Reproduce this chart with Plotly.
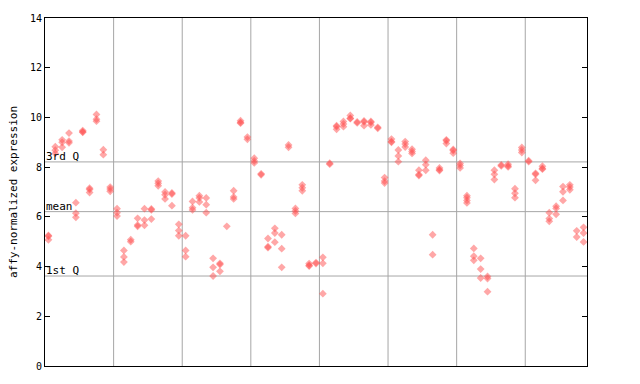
import plotly.graph_objects as go

# Expression values per sample (each inner list = replicate points of one sample)
group1 = [[5.25, 5.22, 5.08], [8.82, 8.68, 8.55], [9.1, 9.0, 8.8], [9.37, 9.05, 8.98],
          [6.57, 6.15, 5.98], [9.47, 9.42, 9.40], [7.15, 7.10, 6.98], [10.12, 9.93, 9.85],
          [8.7, 8.5], [7.2, 7.12, 7.03]]
group2 = [[6.33, 6.17, 6.03], [4.65, 4.39, 4.18], [5.08, 5.0], [5.94, 5.67, 5.62],
          [6.33, 5.87, 5.66], [6.32, 6.28, 5.91], [7.44, 7.35, 7.25], [7.0, 6.89, 6.72],
          [6.96, 6.92, 6.45], [5.7, 5.45, 5.24]]
group3 = [[5.24, 4.65, 4.4], [6.62, 6.37, 6.28], [6.85, 6.76, 6.6], [6.76, 6.49, 6.17],
          [4.33, 3.97, 3.62], [4.13, 4.08, 3.81], [5.62], [7.05, 6.8, 6.72],
          [9.87, 9.8, 9.77], [9.21, 9.12]]
group4 = [[8.36, 8.25, 8.17], [7.73, 7.69], [5.13, 4.8, 4.76], [5.54, 5.35, 4.98],
          [5.28, 4.72, 3.97], [8.89, 8.8], [6.34, 6.24, 6.14], [7.29, 7.17, 7.05],
          [4.12, 4.05, 4.02], [4.16, 4.12]]
group5 = [[4.37, 4.13, 2.91], [8.16, 8.12], [9.67, 9.63, 9.52], [9.84, 9.74, 9.63],
          [10.08, 9.97, 9.95], [9.82, 9.78], [9.86, 9.82, 9.67], [9.84, 9.8, 9.7],
          [9.6, 9.56], [7.58, 7.44, 7.36]]
group6 = [[9.13, 9.03, 9.0], [8.69, 8.45, 8.22], [9.03, 8.93, 8.81], [8.72, 8.63, 8.55],
          [7.88, 7.7, 7.66], [8.28, 8.1, 7.87], [5.28, 4.48], [7.97, 7.9, 7.86],
          [9.1, 9.06, 8.95], [8.71, 8.67, 8.56]]
group7 = [[8.15, 8.07, 7.97], [6.85, 6.77, 6.66, 6.56], [4.73, 4.42, 4.25], [4.33, 3.9, 3.54],
          [3.6, 3.52, 2.99], [7.88, 7.71, 7.5], [8.09, 8.05], [8.12, 8.05, 8.01],
          [7.13, 6.95, 6.77], [8.79, 8.69, 8.59]]
group8 = [[8.26, 8.22], [7.75, 7.71, 7.47], [8.04, 7.95, 7.92], [6.17, 5.93, 5.82],
          [6.43, 6.34, 6.1], [7.22, 7.01, 6.66], [7.29, 7.2, 7.09], [5.44, 5.19],
          [5.58, 5.35, 4.99]]

groups = [group1, group2, group3, group4, group5, group6, group7, group8]

q1_value = 3.62
mean_value = 6.21
q3_value = 8.21
y_ticks = [0, 2, 4, 6, 8, 10, 12, 14]

samples = [s for g in groups for s in g]
n_samples = len(samples)

xs, ys = [], []
for i, reps in enumerate(samples):
    for v in reps:
        xs.append(i + 0.5)
        ys.append(v)

fig = go.Figure()
fig.add_trace(go.Scatter(
    x=xs, y=ys, mode="markers",
    marker=dict(symbol="diamond", size=6, color="rgba(255,80,80,0.5)", line=dict(width=0)),
    hoverinfo="y", showlegend=False,
))

shapes = []
# vertical group separators
b = 0
for g in groups[:-1]:
    b += len(g)
    shapes.append(dict(type="line", xref="x", yref="paper", x0=b, x1=b, y0=0, y1=1,
                       line=dict(color="#a6a6a6", width=1), layer="below"))
# quartile lines
for v in (q1_value, mean_value, q3_value):
    shapes.append(dict(type="line", xref="paper", yref="y", x0=0, x1=1, y0=v, y1=v,
                       line=dict(color="#a6a6a6", width=1), layer="below"))

mono = "DejaVu Sans Mono"
annotations = []
for v, label in ((q3_value, "3rd Q"), (mean_value, "mean"), (q1_value, "1st Q")):
    annotations.append(dict(xref="paper", yref="y", x=0, y=v, text=label, showarrow=False,
                            xanchor="left", yanchor="bottom", xshift=-1, yshift=-3,
                            font=dict(family=mono, size=11, color="black")))

fig.update_layout(
    width=640, height=384,
    margin=dict(l=44, r=53, t=13, b=15),
    paper_bgcolor="white", plot_bgcolor="white",
    shapes=shapes, annotations=annotations,
    font=dict(family=mono, color="black"),
)
fig.update_xaxes(range=[0, n_samples], showticklabels=False, ticks="", showgrid=False,
                 zeroline=False, showline=True, linecolor="black", linewidth=1, mirror=True)
fig.update_yaxes(range=[0, 14], tickvals=y_ticks, ticks="inside", ticklen=5, tickcolor="black",
                 showgrid=False, zeroline=False, showline=True, linecolor="black", linewidth=1,
                 mirror="ticks", tickfont=dict(family=mono, size=10),
                 title=dict(text="affy-normalized expression", font=dict(family=mono, size=11),
                            standoff=10))

fig.write_html("out.html")
